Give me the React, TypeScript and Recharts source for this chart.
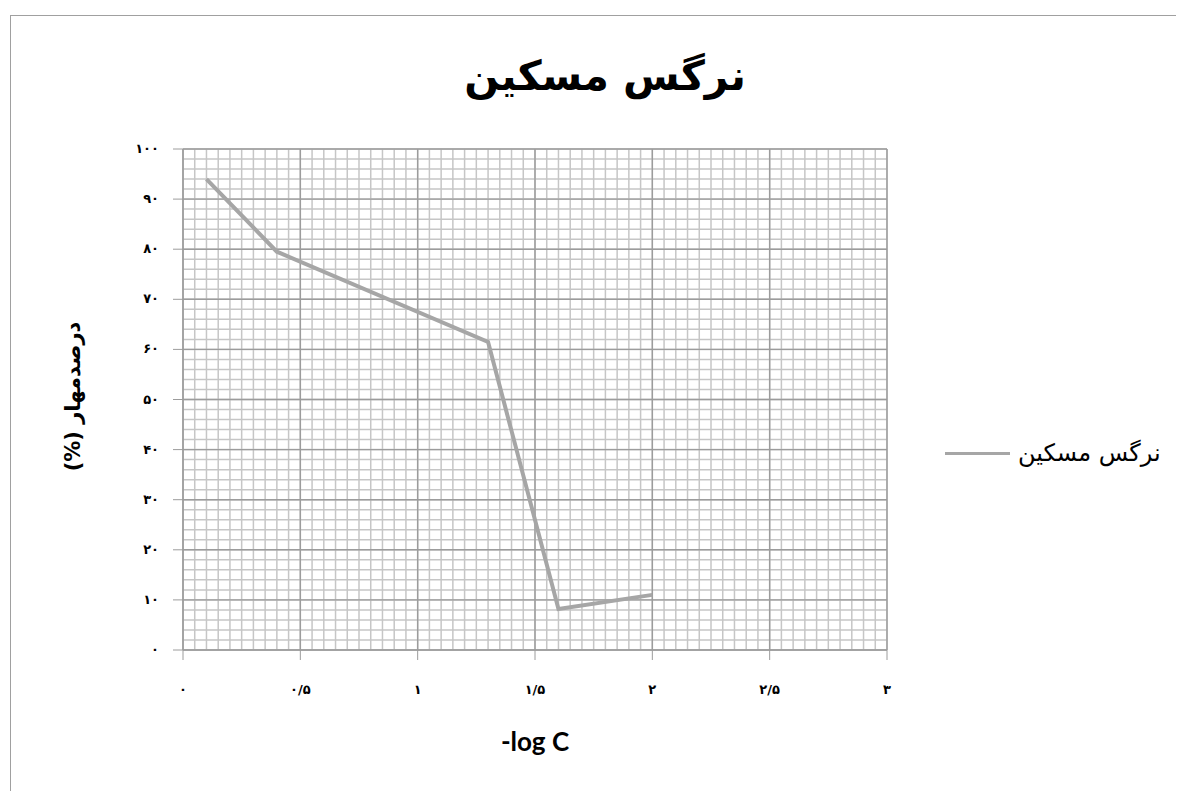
import { LineChart, Line, XAxis, YAxis, CartesianGrid } from 'recharts'

const seriesName = 'نرگس مسکین'
const yTitle = 'درصدمهار (%)'
const xTitle = '-log C'
const logC = [0.1, 0.4, 1.3, 1.6, 2.0]
const inhibition = [94, 79.5, 61.5, 8.2, 11]
const xTicks = [0, 0.5, 1, 1.5, 2, 2.5, 3]
const yTicks = [0, 10, 20, 30, 40, 50, 60, 70, 80, 90, 100]

const data = logC.map((x, i) => ({ x, y: inhibition[i] }))

// minor grid: 0.05 on x, 2 on y
const minorX = Array.from({ length: 61 }, (_, i) => +(i * 0.05).toFixed(2))
const minorY = Array.from({ length: 51 }, (_, i) => i * 2)

const faDigits = '۰۱۲۳۴۵۶۷۸۹'
const toFa = (v: number) => String(v).replace(/\d/g, (d) => faDigits[+d]).replace('.', '/')

const arabicFont = '"DejaVu Sans", Tahoma, sans-serif'

function XTick({ x, y, payload }: any) {
  return (
    <text x={x} y={y + 32} textAnchor="middle" fontSize={13} fontWeight="bold" fill="#000" fontFamily={arabicFont}>
      {toFa(payload.value)}
    </text>
  )
}

function YTick({ x, y, payload }: any) {
  return (
    <text x={x - 12} y={y + 4} textAnchor="end" fontSize={13} fontWeight="bold" fill="#000" fontFamily={arabicFont}>
      {toFa(payload.value)}
    </text>
  )
}

function XLabel({ viewBox }: any) {
  return (
    <text x={viewBox.x + viewBox.width / 2} y={viewBox.y + 101} textAnchor="middle" fontSize={26} fontWeight="bold" fill="#000" fontFamily="Lato, sans-serif">
      {xTitle}
    </text>
  )
}

function YLabel({ viewBox }: any) {
  const cx = viewBox.x - 50
  const cy = viewBox.y + viewBox.height / 2 - 3
  return (
    <text x={cx} y={cy} transform={`rotate(-90 ${cx} ${cy})`} textAnchor="middle" dominantBaseline="central" direction="rtl" fontSize={21} fontWeight="bold" fill="#000" fontFamily={arabicFont}>
      {yTitle}
    </text>
  )
}

export default function App() {
  return (
    <div style={{ position: 'relative', width: 1176, height: 783, overflow: 'hidden', background: '#fff' }}>
      <div style={{ position: 'absolute', left: 2, top: 7, width: 1300, height: 900, border: '1.5px solid #a0a0a0', boxSizing: 'border-box' }} />
      <div style={{ position: 'absolute', left: 0, top: 44, width: 1194, textAlign: 'center', fontFamily: arabicFont, fontWeight: 'bold', fontSize: 41, color: '#000' }}>
        {seriesName}
      </div>
      <div style={{ position: 'absolute', left: 0, top: 0 }}>
        <LineChart width={1176} height={783} data={data} margin={{ top: 141, right: 297, bottom: 91, left: 115 }}>
          <CartesianGrid stroke="#c6c6c6" strokeWidth={1.5} verticalValues={minorX} horizontalValues={minorY} />
          <CartesianGrid stroke="#9c9c9c" strokeWidth={1.4} verticalValues={xTicks} horizontalValues={yTicks} />
          <XAxis
            dataKey="x"
            type="number"
            domain={[0, 3]}
            ticks={xTicks}
            interval={0}
            height={50}
            tickSize={10}
            stroke="#9c9c9c"
            tick={<XTick />}
            label={<XLabel />}
          />
          <YAxis
            type="number"
            domain={[0, 100]}
            ticks={yTicks}
            interval={0}
            width={60}
            tickSize={10}
            stroke="#9c9c9c"
            tick={<YTick />}
            label={<YLabel />}
          />
          <Line dataKey="y" name={seriesName} stroke="#a6a6a6" strokeWidth={4} dot={false} activeDot={false} isAnimationActive={false} />
        </LineChart>
      </div>
      <div style={{ position: 'absolute', left: 937, top: 431, display: 'flex', alignItems: 'center', fontFamily: arabicFont, fontSize: 24, color: '#000', whiteSpace: 'nowrap' }}>
        <span style={{ display: 'inline-block', width: 65, height: 3, background: '#a6a6a6', marginRight: 8 }} />
        <span>{seriesName}</span>
      </div>
    </div>
  )
}
